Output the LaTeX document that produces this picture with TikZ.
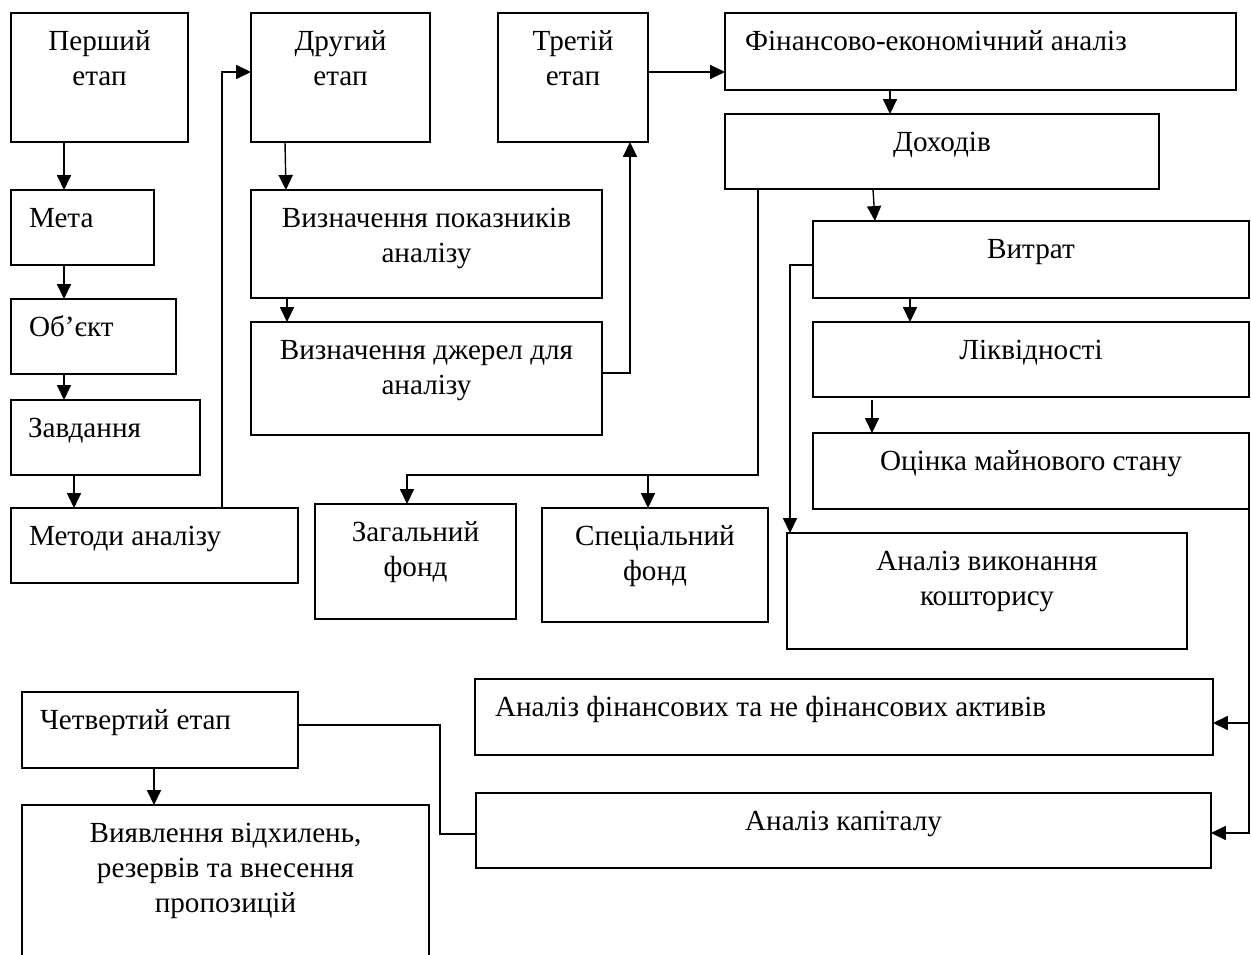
\documentclass[tikz,border=0pt]{standalone}
\usepackage{fontspec}
\setmainfont{Liberation Serif}
\usetikzlibrary{arrows.meta,calc}
\newlength{\pxu}
\setlength{\pxu}{0.02cm}
% text at the top of a box: width, height, text
\newcommand{\blok}[3]{\parbox[c][#2\pxu][t]{#1\pxu}{\vspace*{7.4pt}\centering\strut #3}}
% the same, left aligned: width, height, indent, text
\newcommand{\blokl}[4]{\parbox[c][#2\pxu][t]{#1\pxu}{\vspace*{7.4pt}\hspace*{#3\pxu}\strut #4}}
\tikzset{
  blok/.style={draw, line width=1pt, inner sep=0pt, outer sep=0pt, anchor=north west},
  zv/.style={line width=0.8pt, -{Triangle[length=8.5pt,width=8pt]}},
  lin/.style={line width=0.8pt}
}

\begin{document}
\begin{tikzpicture}[x=0.02cm, y=-0.02cm, font=\fontsize{16.6}{19.9}\selectfont]
        \clip (0,0) rectangle (1251,955);

        \node[blok] (pershyi) at (11,13) {\blok{177}{129}{Перший\\етап}};
        \node[blok] (meta) at (11,190) {\blokl{143}{75}{18}{Мета}};
        \node[blok] (obekt) at (11,299) {\blokl{165}{75}{18}{Об’єкт}};
        \node[blok] (zavd) at (11,400) {\blokl{189}{75}{17}{Завдання}};
        \node[blok] (metody) at (11,508) {\blokl{287}{75}{18}{Методи аналізу}};

        \node[blok] (druhyi) at (251,13) {\blok{179}{129}{Другий\\етап}};
        \node[blok] (pokaz) at (251,190) {\blok{351}{108}{Визначення показників\\аналізу}};
        \node[blok] (dzherel) at (251,322) {\blok{351}{113}{Визначення джерел для\\аналізу}};

        \node[blok] (tretii) at (498,13) {\blok{150}{129}{Третій\\етап}};
        \node[blok] (finek) at (725,13) {\blokl{511}{77}{20}{Фінансово-економічний аналіз}};
        \node[blok] (dohody) at (725,114) {\blok{434}{75}{Доходів}};
        \node[blok] (vytraty) at (813,221) {\blok{436}{77}{Витрат}};
        \node[blok] (likv) at (813,322) {\blok{436}{75}{Ліквідності}};
        \node[blok] (ocinka) at (813,433) {\blok{436}{76}{Оцінка майнового стану}};
        \node[blok] (koshtorys) at (787,533) {\blok{400}{116}{Аналіз виконання\\кошторису}};
        \node[blok] (zahal) at (315,504) {\blok{201}{115}{Загальний\\фонд}};
        \node[blok] (spec) at (542,508) {\blok{226}{114}{Спеціальний\\фонд}};

        \node[blok] (chetv) at (22,692) {\blokl{276}{76}{18}{Четвертий етап}};
        \node[blok] (vyjavl) at (22,805) {\blok{407}{200}{Виявлення відхилень,\\резервів та внесення\\пропозицій}};
        \node[blok] (aktyvy) at (475,679) {\blokl{738}{76}{20}{Аналіз фінансових та не фінансових активів}};
        \node[blok] (kapital) at (476,793) {\blok{735}{75}{Аналіз капіталу}};

        % перший етап
        \draw[zv] ($(pershyi.south west)+(53,0)$) -- ($(meta.north west)+(53,0)$);
        \draw[zv] ($(meta.south west)+(53,0)$) -- ($(obekt.north west)+(53,0)$);
        \draw[zv] ($(obekt.south west)+(53,0)$) -- ($(zavd.north west)+(53,0)$);
        \draw[zv] ($(zavd.south west)+(63,0)$) -- ($(metody.north west)+(63,0)$);
        \draw[zv] ($(metody.north west)+(211,0)$) |- ($(druhyi.north west)+(0,59)$);

        % другий етап
        \draw[zv] ($(druhyi.south west)+(34,0)$) -- ($(pokaz.north west)+(35,0)$);
        \draw[zv] ($(pokaz.south west)+(36,0)$) -- ($(dzherel.north west)+(36,0)$);
        \draw[zv] ($(dzherel.north east)+(0,51)$) -| ($(tretii.south west)+(132,0)$);

        % третій етап
        \draw[zv] ($(tretii.north east)+(0,59)$) -- ($(finek.north west)+(0,59)$);
        \draw[zv] ($(finek.south west)+(165,0)$) -- ($(dohody.north west)+(165,0)$);
        \draw[zv] ($(dohody.south west)+(148,0)$) -- ($(vytraty.north west)+(62,0)$);
        \draw[zv] ($(vytraty.south west)+(97,0)$) -- ($(likv.north west)+(97,0)$);
        \draw[zv] ($(likv.south west)+(59,3)$) -- ($(ocinka.north west)+(59,0)$);
        \draw[zv] ($(dohody.south west)+(33,0)$) -- ++(0,286) coordinate (fond) -| ($(zahal.north west)+(92,0)$);
        \coordinate (specvh) at ($(spec.north west)+(106,0)$);
        \draw[zv] (fond -| specvh) -- (specvh);
        \draw[zv] ($(vytraty.north west)+(0,44)$) -| ($(koshtorys.north west)+(3,0)$);
        \draw[zv] (ocinka.south east) |- ($(kapital.north east)+(0,40)$);
        \coordinate (aktvh) at ($(aktyvy.north east)+(0,44)$);
        \draw[zv] (ocinka.south east |- aktvh) -- (aktvh);

        % четвертий етап
        \draw[zv] ($(chetv.south west)+(132,0)$) -- ($(vyjavl.north west)+(132,0)$);
        \draw[lin] ($(chetv.north east)+(0,33)$) -- ++(142,0) |- ($(kapital.north west)+(0,41)$);
\end{tikzpicture}
\end{document}
